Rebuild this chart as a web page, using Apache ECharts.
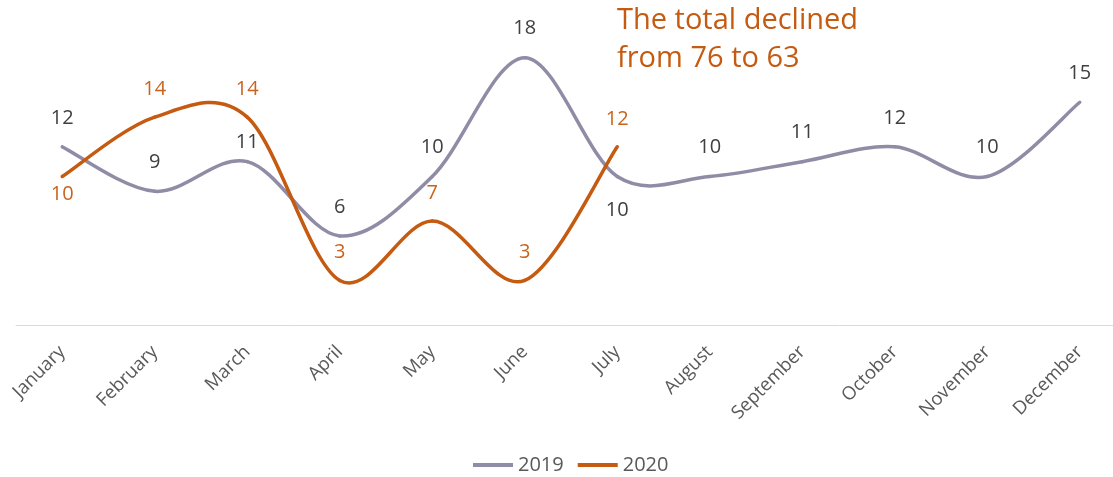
<!DOCTYPE html>
<html>
<head>
<meta charset="utf-8">
<script src="https://cdn.jsdelivr.net/npm/echarts@6/dist/echarts.min.js"></script>
<style>
html, body { margin: 0; padding: 0; background: #fff; }
#main { width: 1113px; height: 477px; }
</style>
</head>
<body>
<div id="main"></div>
<script>
var months = ['January', 'February', 'March', 'April', 'May', 'June', 'July',
    'August', 'September', 'October', 'November', 'December'];
var values2019 = [12, 9, 11, 6, 10, 18, 10, 10, 11, 12, 10, 15];
var values2020 = [10, 14, 14, 3, 7, 3, 12];
var seriesNames = ['2019', '2020'];
var noteText = 'The total declined\nfrom 76 to 63';

// labels that sit under the point instead of above
var below2019 = [6];
var below2020 = [0];
// labels squeezed closer to the line
var close2019 = [2];

function buildData(values, belowList, dist, closeList) {
    return values.map(function (v, i) {
        if (belowList.indexOf(i) >= 0) {
            return { value: v, label: { position: 'bottom', distance: dist } };
        }
        if (closeList && closeList.indexOf(i) >= 0) {
            return { value: v, label: { distance: 9 } };
        }
        return v;
    });
}

// excel style smoothed line: one bezier per segment, control points from neighbours
function curveSeries(name, values, color) {
    var segs = [];
    for (var i = 0; i < values.length - 1; i++) segs.push([i, values[i]]);
    return {
        name: name,
        type: 'custom',
        silent: true,
        z: 3,
        itemStyle: { color: color },
        data: segs,
        renderItem: function (params, api) {
            var i = params.dataIndex;
            var n = values.length;
            var p0 = api.coord([Math.max(i - 1, 0), values[Math.max(i - 1, 0)]]);
            var p1 = api.coord([i, values[i]]);
            var p2 = api.coord([i + 1, values[i + 1]]);
            var p3 = api.coord([Math.min(i + 2, n - 1), values[Math.min(i + 2, n - 1)]]);
            return {
                type: 'bezierCurve',
                shape: {
                    x1: p1[0], y1: p1[1],
                    x2: p2[0], y2: p2[1],
                    cpx1: p1[0] + (p2[0] - p0[0]) / 6,
                    cpy1: p1[1] + (p2[1] - p0[1]) / 6,
                    cpx2: p2[0] - (p3[0] - p1[0]) / 6,
                    cpy2: p2[1] - (p3[1] - p1[1]) / 6
                },
                style: { stroke: color, lineWidth: 3.5, fill: null, lineCap: 'round' }
            };
        }
    };
}

var grey = '#908CA6';
var orange = '#C55A11';
var font = '"Open Sans", sans-serif';

var myChart = echarts.init(document.getElementById('main'));
var option = {
    animation: false,
    title: {
        text: noteText,
        left: 612,
        top: -3,
        textStyle: {
            color: orange,
            fontSize: 29,
            fontWeight: 'normal',
            fontFamily: font,
            lineHeight: 38
        }
    },
    legend: {
        data: seriesNames,
        left: 468,
        top: 450,
        icon: 'rect',
        itemWidth: 40,
        itemHeight: 4,
        itemGap: 14,
        textStyle: { color: '#595959', fontSize: 20, fontFamily: font }
    },
    grid: {
        left: 16,
        right: -13,
        top: 28,
        bottom: 152,
        outerBoundsMode: 'none'
    },
    xAxis: {
        type: 'category',
        data: months,
        boundaryGap: true,
        axisLine: { lineStyle: { color: '#D9D9D9', width: 1 } },
        axisTick: { show: false },
        axisLabel: {
            rotate: 45,
            interval: 0,
            margin: 24,
            color: '#595959',
            fontSize: 18.5,
            fontFamily: font
        }
    },
    yAxis: {
        type: 'value',
        min: 0,
        max: 20,
        show: false,
        splitLine: { show: false }
    },
    series: [
        curveSeries(seriesNames[0], values2019, grey),
        curveSeries(seriesNames[1], values2020, orange),
        {
            name: seriesNames[0],
            type: 'line',
            symbol: 'circle',
            symbolSize: 0,
            data: buildData(values2019, below2019, 24, close2019),
            lineStyle: { color: grey, width: 0, opacity: 0 },
            itemStyle: { color: grey },
            label: {
                show: true,
                position: 'top',
                distance: 19,
                color: '#404040',
                fontSize: 20,
                fontFamily: font
            }
        },
        {
            name: seriesNames[1],
            type: 'line',
            symbol: 'circle',
            symbolSize: 0,
            data: buildData(values2020, below2020, 8),
            lineStyle: { color: orange, width: 0, opacity: 0 },
            itemStyle: { color: orange },
            label: {
                show: true,
                position: 'top',
                distance: 18,
                color: '#C8641E',
                fontSize: 20,
                fontFamily: font
            }
        }
    ]
};
myChart.setOption(option);
</script>
</body>
</html>
